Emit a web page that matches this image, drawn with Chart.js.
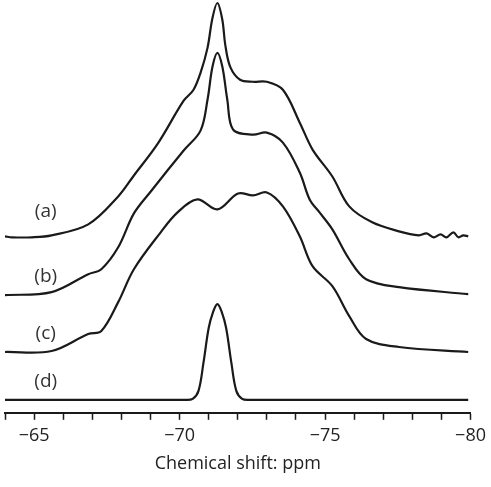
<!DOCTYPE html>
<html>
<head>
<meta charset="utf-8">
<script src="https://cdn.jsdelivr.net/npm/chart.js@4"></script>
<style>
  html, body { margin: 0; padding: 0; background: #fff; }
  #wrap { width: 491px; height: 487px; }
</style>
</head>
<body>
<div id="wrap"><canvas id="nmr"></canvas></div>
<script>
// Chemical shift (ppm) and stacked intensity for each trace
const shiftA = [-64.0, -64.24, -64.92, -65.6, -66.86, -67.89, -68.43, -69.25, -70.14, -70.48, -70.72, -70.96, -71.13, -71.3, -71.47, -71.57, -71.74, -72.08, -72.52, -73.0, -73.55, -74.13, -74.57, -75.25, -75.83, -76.62, -77.54, -78.22, -78.49, -78.73, -78.97, -79.17, -79.41, -79.58, -79.75, -79.92];
const traceA = [177, 176, 176, 178, 189, 217, 238, 270, 313, 324, 341, 366, 396, 411, 394, 369, 347, 334, 332, 332, 324, 291, 264, 237, 207, 191, 182, 178, 180, 176, 179, 176, 181, 176, 178, 177];

const shiftB = [-64.0, -65.6, -66.86, -67.31, -67.89, -68.43, -69.01, -70.14, -70.72, -70.96, -71.13, -71.3, -71.47, -71.64, -71.84, -72.52, -73.0, -73.55, -74.13, -74.47, -74.81, -75.25, -75.83, -76.41, -77.54, -79.92];
const traceB = [118, 121, 139, 144, 166, 200, 222, 263, 283, 314, 347, 361, 347, 314, 284, 279, 281, 271, 241, 214, 201, 184, 154, 134, 126, 119];

const shiftC = [-64.0, -65.6, -66.86, -67.31, -67.89, -68.43, -69.35, -69.93, -70.61, -71.3, -72.01, -72.52, -73.0, -73.55, -74.13, -74.57, -75.25, -75.83, -76.41, -77.54, -79.92];
const traceC = [61, 62, 79, 82, 111, 144, 181, 201, 214, 204, 220, 218, 221, 207, 177, 147, 127, 97, 74, 66, 61];

const shiftD = [-64.0, -70.2, -70.45, -70.65, -70.82, -71.0, -71.15, -71.3, -71.45, -71.6, -71.78, -71.95, -72.15, -72.4, -79.92];
const traceD = [13, 13, 14, 22, 50, 85, 101, 109, 101, 85, 50, 22, 14, 13, 13];

const traceNames = ['(a)', '(b)', '(c)', '(d)'];
const labelShift = -65.4;
const labelLevel = [202, 137, 79, 31];

const xMin = -80;
const xMax = -64;
const xTitle = 'Chemical shift: ppm';

function toPoints(xs, ys) {
    return xs.map((x, i) => ({ x: x, y: ys[i] }));
}

function lineSet(xs, ys) {
    return {
        data: toPoints(xs, ys),
        borderColor: '#1a1a1a',
        borderWidth: 2.2,
        pointRadius: 0,
        fill: false,
        tension: 0.35
    };
}

// Draw the (a)...(d) labels next to each trace
const traceLabels = {
    id: 'traceLabels',
    afterDatasetsDraw(chart) {
        const { ctx, scales } = chart;
        ctx.save();
        ctx.fillStyle = '#333';
        ctx.font = '19px "Open Sans", sans-serif';
        ctx.textAlign = 'center';
        ctx.textBaseline = 'middle';
        traceNames.forEach((name, i) => {
            ctx.fillText(name, scales.x.getPixelForValue(labelShift), scales.y.getPixelForValue(labelLevel[i]));
        });
        ctx.restore();
    }
};

new Chart(document.getElementById('nmr'), {
    type: 'line',
    data: {
        datasets: [
            lineSet(shiftA, traceA),
            lineSet(shiftB, traceB),
            lineSet(shiftC, traceC),
            lineSet(shiftD, traceD)
        ]
    },
    options: {
        responsive: true,
        maintainAspectRatio: false,
        animation: false,
        layout: { padding: { left: 3, right: 19, top: 0, bottom: 12 } },
        plugins: {
            legend: { display: false },
            tooltip: { enabled: false }
        },
        scales: {
            x: {
                type: 'linear',
                reverse: true,
                min: xMin,
                max: xMax,
                border: { color: '#1a1a1a', width: 2 },
                grid: {
                    drawOnChartArea: false,
                    drawTicks: true,
                    tickLength: 7,
                    tickWidth: 1.5,
                    tickColor: '#1a1a1a'
                },
                ticks: {
                    stepSize: 1,
                    autoSkip: false,
                    maxRotation: 0,
                    color: '#222',
                    font: { family: 'Open Sans', size: 18 },
                    padding: 5,
                    callback: function(value) {
                        return value % 5 === 0 ? String(value).replace('-', '\u2212') : '';
                    }
                },
                title: {
                    display: true,
                    text: xTitle,
                    color: '#222',
                    font: { family: 'Open Sans', size: 18 },
                    padding: { top: 2, bottom: 0 }
                }
            },
            y: {
                display: false,
                min: 0,
                max: 414
            }
        }
    },
    plugins: [traceLabels]
});
</script>
</body>
</html>
